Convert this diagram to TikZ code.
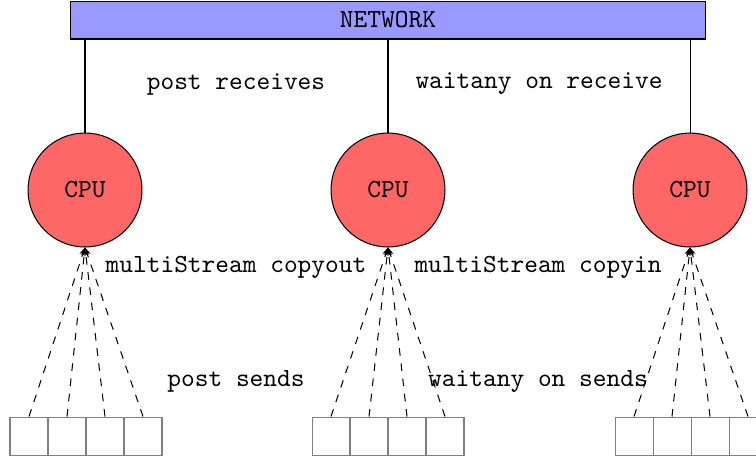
\documentclass[tikz,border=0pt]{standalone}
\usetikzlibrary{arrows.meta}
\begin{document}
\begin{tikzpicture}[x=0.3922pt,y=-0.3922pt,
  tt/.style={font=\fontsize{10.25}{12}\selectfont\ttfamily},
  netbox/.style={draw,fill=blue!40,minimum width=249.4pt,minimum height=14.9pt,inner sep=0pt,tt},
  cpu/.style={circle,draw,fill=red!60,minimum size=44.7pt,inner sep=0pt,tt},
  buf/.style={draw=gray,minimum size=14.9pt,inner sep=0pt},
  lbl/.style={tt,inner sep=1pt},
  feed/.style={dashed,-{Stealth[length=3pt,width=2.5pt]}}]
\useasboundingbox (0,0) rectangle (756,459);
\node[netbox] (net) at (388,20) {NETWORK};
\node[cpu] (c1) at (85,190) {CPU};
\node[cpu] (c2) at (388,190) {CPU};
\node[cpu] (c3) at (690,190) {CPU};
\foreach \c in {1,2,3} \draw (c\c.north) -- (c\c.north |- net.south);
\foreach \c/\x in {1/10,2/312,3/615} {
  \foreach \i in {0,1,2,3} {
    \node[buf] (b\c\i) at ({\x+19+38*\i},436) {};
    \draw[feed] (b\c\i.north) -- (c\c.south);
  }
}
\node[lbl] (l1) at (236,84) {post receives};
\node[lbl] (l2) at (539,84) {waitany on receive};
\node[lbl] (l3) at (236,267) {multiStream copyout};
\node[lbl] (l4) at (538,267) {multiStream copyin};
\node[lbl] (l5) at (236,381) {post sends};
\node[lbl] (l6) at (538,381) {waitany on sends};
\end{tikzpicture}
\end{document}
